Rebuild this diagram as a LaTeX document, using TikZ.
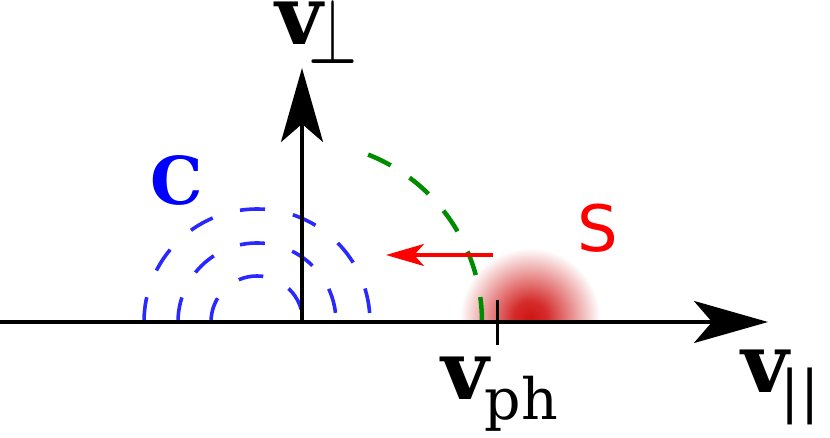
\documentclass[tikz,border=0pt]{standalone}
\usepackage{fontspec}
\setmainfont{DejaVu Serif}
\newfontfamily\dvsans{DejaVu Sans}
\usetikzlibrary{arrows.meta,calc}
\definecolor{dgreen}{RGB}{0,140,0}
\definecolor{dblue}{RGB}{40,40,255}
\definecolor{glowred}{RGB}{208,20,20}
\pgfdeclareradialshading{glow}{\pgfpoint{0bp}{0bp}}{color(0bp)=(glowred); color(6bp)=(glowred!90!white); color(25bp)=(white); color(50bp)=(white)}
\newcommand{\bigv}{\fontsize{82}{90}\selectfont\bfseries v}
\newcommand{\subf}{\fontsize{57}{60}\selectfont\mdseries}
\newcommand{\perpsym}{\scalebox{6.3}[9.4]{\fontsize{10}{12}\selectfont$\perp$}}
\begin{document}
\begin{tikzpicture}[x=1pt,y=1pt,
  axis/.style={line width=4pt, -{Stealth[length=74pt,width=42pt,inset=18pt]}},
  bluearc/.style={dblue, line width=3.6pt, dash pattern=on 25pt off 28.5pt},
  greenarc/.style={dgreen, line width=4.5pt, dash pattern=on 25pt off 22.5pt},
  redarrow/.style={red, line width=3.3pt, -{Stealth[length=38pt,width=22pt,inset=10pt]}},
  lbl/.style={inner sep=0pt, anchor=base west}]
\useasboundingbox (0,0) rectangle (830,438);
% coordinates
\coordinate (O) at (302,116);
\coordinate (xstart) at (0,116);
\coordinate (xend) at (768,116);
\coordinate (ytop) at (302,370);
\coordinate (Cc) at (257,116);
\coordinate (glowc) at (530,120);
\coordinate (tickt) at (497,138);
\coordinate (tickb) at (497,93);
\coordinate (arrs) at (493,183);
\coordinate (arre) at (386,183);
% glow
\begin{scope}
  \clip (0,116) rectangle (830,438);
  \shade[shading=glow] (glowc) circle[radius=70];
\end{scope}
% blue arcs
\foreach \r in {46,79,113}
  \draw[bluearc] ($(Cc)+(-\r,0)$) arc[start angle=180, end angle=0, radius=\r];
% green arc
\draw[greenarc] ($(O)+(180,0)$) arc[start angle=0, end angle=68.5, radius=180];
% red arrow
\draw[redarrow] (arrs) -- (arre);
% axes
\draw[axis] (xstart) -- (xend);
\draw[axis] (O) -- (ytop);
\draw[line width=3pt] (tickt) -- (tickb);
% labels
\node[lbl] (vperp) at (275,393) {\bigv\kern-14pt\raisebox{-19pt}{\perpsym}};
\node[lbl] (vph) at (441,38) {\bigv\kern-4pt\raisebox{-20pt}{\subf ph}};
\node[lbl] (vpar) at (741,45) {\bigv\kern-8pt\raisebox{-19pt}{\subf ||}};
\node[lbl, text=blue] (C) at (150,233) {\fontsize{66}{70}\selectfont\bfseries C};
\node[lbl, text=red] (S) at (577,186) {\fontsize{64}{70}\selectfont\dvsans S};
\end{tikzpicture}
\end{document}
